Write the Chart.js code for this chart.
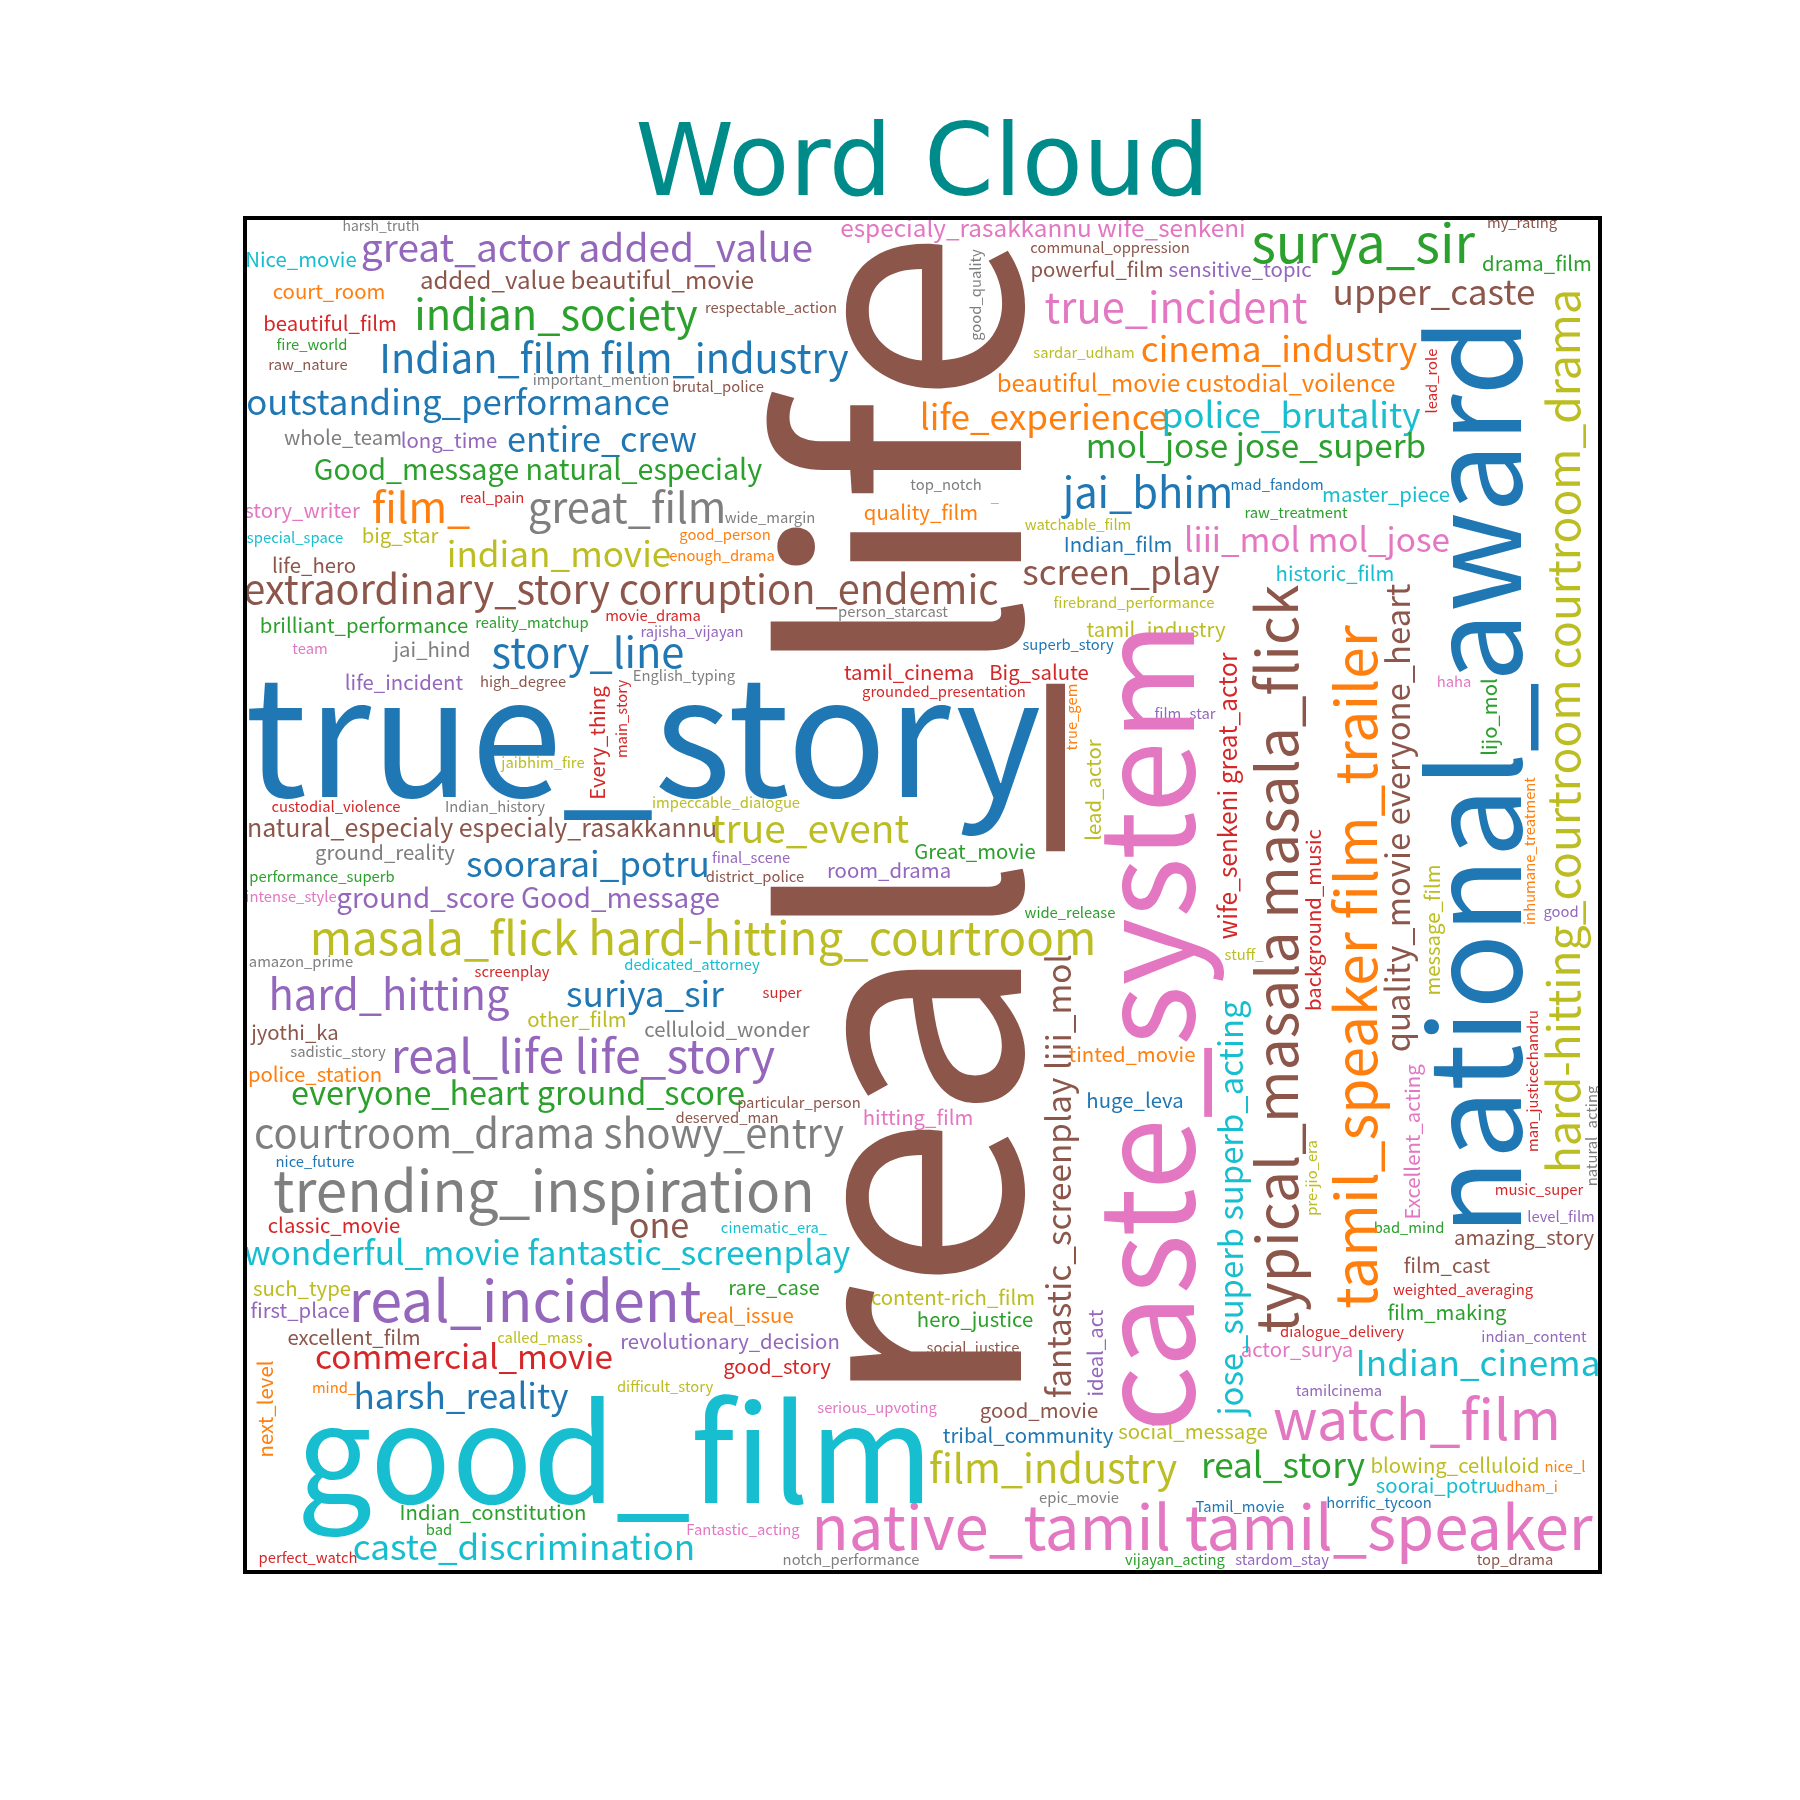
<!DOCTYPE html>
<html>
<head>
<meta charset="utf-8">
<script src="https://cdn.jsdelivr.net/npm/chart.js@4"></script>
<style>
  html, body { margin:0; padding:0; background:#fff; }
  #wrap { width:1800px; height:1800px; }
</style>
</head>
<body>
<div id="wrap"><canvas id="cloud" width="1800" height="1800"></canvas></div>
<script>
// tab10 colours, words refer to them by index
const palette = ['#1f77b4','#ff7f0e','#2ca02c','#d62728','#9467bd','#8c564b','#e377c2','#7f7f7f','#bcbd22','#17becf'];
const FONT = '"Noto Sans CJK JP", "Noto Sans", sans-serif';
const FONT_FIT = 0.925; // Noto CJK latin runs a bit wide vs the weights

// horizontal words: centre x, baseline y (cloud image coords), weight, colour
const hWords = [
  'harsh_truth','Nice_movie','great_actor added_value','added_value beautiful_movie','court_room','beautiful_film','indian_society','fire_world','raw_nature','Indian_film film_industry',
  'important_mention','brutal_police','outstanding_performance','whole_team','long_time','entire_crew','Good_message natural_especialy','story_writer','film_','real_pain',
  'great_film','special_space','big_star','good_person','enough_drama','indian_movie','wide_margin','life_hero','extraordinary_story corruption_endemic','brilliant_performance',
  'reality_matchup','movie_drama','rajisha_vijayan','person_starcast','team','jai_hind','story_line','especialy_rasakkannu wife_senkeni','communal_oppression','powerful_film',
  'respectable_action','true_incident','sardar_udham','cinema_industry','beautiful_movie custodial_voilence','life_experience','police_brutality','mol_jose jose_superb','jai_bhim','top_notch',
  '_','quality_film','watchable_film','Indian_film','screen_play','firebrand_performance','tamil_industry','superb_story','surya_sir','my_rating',
  'drama_film','sensitive_topic','upper_caste','mad_fandom','master_piece','raw_treatment','liii_mol mol_jose','historic_film','life_incident','high_degree',
  'English_typing','jaibhim_fire','custodial_violence','Indian_history','impeccable_dialogue','natural_especialy especialy_rasakkannu','true_event','ground_reality','soorarai_potru','final_scene',
  'district_police','performance_superb','intense_style','ground_score Good_message','masala_flick hard-hitting_courtroom','amazon_prime','screenplay','dedicated_attorney','hard_hitting','suriya_sir',
  'super','other_film','celluloid_wonder','jyothi_ka','sadistic_story','police_station','real_life life_story','everyone_heart ground_score','particular_person','deserved_man',
  'hitting_film','tamil_cinema','Big_salute','grounded_presentation','film_star','Great_movie','room_drama','wide_release','tinted_movie','huge_leva',
  'stuff_','haha','good','music_super','level_film','bad_mind','amazing_story','film_cast','weighted_averaging','film_making',
  'dialogue_delivery','indian_content','actor_surya','Indian_cinema','tamilcinema','watch_film','social_message','real_story','blowing_celluloid','nice_l',
  'soorai_potru','udham_i','Tamil_movie','horrific_tycoon','native_tamil tamil_speaker','stardom_stay','vijayan_acting','top_drama','courtroom_drama showy_entry','trending_inspiration',
  'nice_future','classic_movie','one','cinematic_era_','wonderful_movie fantastic_screenplay','such_type','first_place','real_incident','real_issue','rare_case',
  'excellent_film','called_mass','revolutionary_decision','commercial_movie','good_story','mind_','harsh_reality','difficult_story','good_film','serious_upvoting',
  'content-rich_film','hero_justice','social_justice','good_movie','tribal_community','film_industry','epic_movie','Fantastic_acting','notch_performance','Indian_constitution',
  'bad','caste_discrimination','perfect_watch','true_story'
];
const hX = [
  381,301,587,587,329,330,556,312,308,614,
  601,718,458,343,449,602,538,302,421,492,
  627,295,400,725,722,559,770,314,621,364,
  532,653,692,893,310,432,588,1043,1110,1097,
  771,1176,1084,1279,1196,1044,1291,1256,1148,946,
  995,921,1078,1118,1121,1134,1156,1068,1363,1522,
  1537,1240,1434,1277,1386,1296,1317,1335,404,523,
  684,543,336,495,726,482,810,385,588,751,
  755,322,291,528,703,301,512,692,389,645,
  782,577,727,295,338,315,583,518,799,727,
  918,909,1039,944,1185,975,889,1070,1132,1135,
  1244,1454,1561,1539,1561,1409,1524,1447,1463,1447,
  1342,1534,1297,1478,1339,1417,1193,1283,1455,1565,
  1437,1527,1240,1379,1202,1282,1175,1515,549,544,
  315,334,659,774,547,302,300,525,746,774,
  354,540,730,464,777,334,461,665,615,877,
  953,975,973,1039,1028,1053,1079,743,851,493,
  439,524,308,643
];
const hY = [
  231,267,262,289,299,331,330,350,370,373,
  385,392,415,445,448,452,480,518,523,503,
  523,543,543,540,561,567,523,573,604,633,
  628,621,637,617,654,657,668,237,253,277,
  313,323,358,362,392,430,428,458,508,490,
  502,520,530,552,585,608,637,650,263,228,
  271,277,305,490,502,518,552,581,690,687,
  681,768,812,812,808,837,843,860,877,863,
  882,882,902,908,955,967,977,970,1010,1007,
  998,1027,1037,1040,1057,1082,1073,1105,1108,1123,
  1125,680,680,697,719,859,878,918,1062,1108,
  960,687,917,1195,1222,1233,1245,1273,1295,1320,
  1337,1342,1357,1376,1396,1440,1439,1478,1473,1472,
  1493,1492,1512,1508,1550,1565,1565,1565,1148,1212,
  1167,1233,1238,1233,1265,1296,1318,1322,1323,1295,
  1345,1343,1349,1369,1374,1393,1409,1392,1503,1413,
  1305,1327,1353,1418,1443,1483,1503,1535,1565,1520,
  1535,1560,1563,797
];
const hWeight = [
  15,22,42,26,22,22,45,16,16,43,
  16,16,37.6,22,22,37,31,22,45,16,
  45,16,22,16,16,38,16,22,43,22,
  16,16,16,16,16,22,45,26.3,16,22,
  16,45,16,38,26,38,38,36,45,16,
  16,22,16,22,38,16,22,16,57,16,
  22,22,38,16,22,16,36,22,22,16,
  16,16,16,16,16,27,42,22,38,16,
  16,16,16,30,49.4,16,16,16,45,38,
  16,22,22,22,16,22,50,35,16,16,
  22,22,22,16,16,22,22,16,22,22,
  16,16,16,16,16,16,22,22,16,22,
  16,16,22,38,16,60,22,38,22,16,
  22,16,16,16,66.6,16,16,16,43,61.2,
  16,22,37,16,36.3,22,22,62,22,22,
  22,16,22,36,22,16,38,16,145,16,
  22,22,16,22,22,43,16,16,16,22,
  16,38,16,178
];
const hColor = [
  7,9,4,5,1,3,2,2,5,0,
  7,5,0,7,4,0,2,6,1,3,
  7,9,8,1,1,8,7,5,5,2,
  2,3,4,7,6,7,0,6,5,5,
  5,6,8,1,1,1,9,2,0,7,
  8,1,8,0,5,8,8,0,2,5,
  2,4,5,0,9,2,6,9,4,5,
  7,8,3,7,8,5,8,7,0,4,
  5,2,6,4,8,7,3,9,4,0,
  3,8,7,5,7,1,4,2,5,5,
  6,3,3,3,4,2,4,2,1,0,
  8,6,4,3,4,2,5,5,3,2,
  3,4,6,9,4,6,8,2,8,1,
  9,1,0,0,6,4,2,5,7,7,
  0,3,5,9,9,8,4,4,1,2,
  5,8,4,3,3,1,0,8,9,6,
  8,2,5,5,0,8,7,6,7,2,
  2,9,3,0
];

// vertical words (read bottom to top): baseline x, centre y, weight, colour
const vWords = [
  'good_quality','lead_role','national_award','hard-hitting_courtroom courtroom_drama','Every_thing','main_story','true_gem','lead_actor','fantastic_screenplay liii_mol','caste_system',
  'wife_senkeni great_actor','typical_masala masala_flick','background_music','tamil_speaker film_trailer','quality_movie everyone_heart','message_film','lijo_mol','inhumane_treatment','man_justicechandru','natural_acting',
  'Excellent_acting','jose_superb superb_acting','pre-jio_era','next_level','ideal_act','real_life'
];
const vX = [
  981,1437,1521,1580,605,627,1077,1101,1071,1194,
  1237,1298,1321,1377,1410,1440,1497,1535,1538,1597,
  1420,1243,1317,273,1103,1021
];
const vY = [
  295,381,777,731,743,719,717,790,1176,1027,
  796,959,920,967,818,930,717,851,1081,1136,
  1142,1208,1178,1409,1353,820
];
const vWeight = [
  16,16,135,48,22,16,16,22,36,140,
  26.5,61.5,22,61.5,35.5,22,22,16,16,16,
  22,35.5,16,22,22,340
];
const vColor = [
  7,3,0,8,3,3,1,8,5,6,
  3,5,3,1,5,8,2,1,3,7,
  6,9,8,1,4,5
];

// extent of the cloud image inside the frame
const X0 = 247, X1 = 1598, Y0 = 220, Y1 = 1570;

const pts = (xs, ys) => xs.map((x, i) => ({x, y: ys[i]}));

const cloudText = {
  id: 'cloudText',
  afterDatasetsDraw(chart) {
    const {ctx, chartArea: a} = chart;
    const k = a.width / (X1 - X0) * FONT_FIT;
    chart.data.datasets.forEach((ds, di) => {
      chart.getDatasetMeta(di).data.forEach((el, i) => {
        ctx.save();
        ctx.translate(el.x, el.y);
        if (ds.vertical) ctx.rotate(-Math.PI / 2);
        ctx.font = (ds.weights[i] * k) + 'px ' + FONT;
        ctx.fillStyle = palette[ds.colors[i]];
        ctx.textAlign = 'center';
        ctx.textBaseline = 'alphabetic';
        ctx.fillText(ds.words[i], 0, 0);
        ctx.restore();
      });
    });
    // frame
    ctx.save();
    ctx.strokeStyle = '#000';
    ctx.lineWidth = 4;
    ctx.strokeRect(a.left - 2, a.top - 2, a.width + 4, a.height + 4);
    ctx.restore();
  }
};

new Chart(document.getElementById('cloud'), {
  type: 'scatter',
  data: {
    datasets: [
      {label: 'horizontal', data: pts(hX, hY), words: hWords, weights: hWeight, colors: hColor, vertical: false, pointRadius: 0},
      {label: 'vertical', data: pts(vX, vY), words: vWords, weights: vWeight, colors: vColor, vertical: true, pointRadius: 0}
    ]
  },
  options: {
    responsive: false,
    devicePixelRatio: 1,
    animation: false,
    layout: {padding: {left: X0, right: 1800 - X1, bottom: 1800 - Y1, top: 0}},
    scales: {
      x: {type: 'linear', min: X0, max: X1, display: false},
      y: {type: 'linear', min: Y0, max: Y1, reverse: true, display: false}
    },
    plugins: {
      legend: {display: false},
      tooltip: {enabled: false},
      title: {
        display: true, text: 'Word Cloud', color: '#008b8b',
        font: {family: 'DejaVu Sans', size: 100, weight: 'normal', lineHeight: 1.2},
        padding: {top: 109, bottom: -9}
      }
    }
  },
  plugins: [cloudText]
});
</script>
</body>
</html>
